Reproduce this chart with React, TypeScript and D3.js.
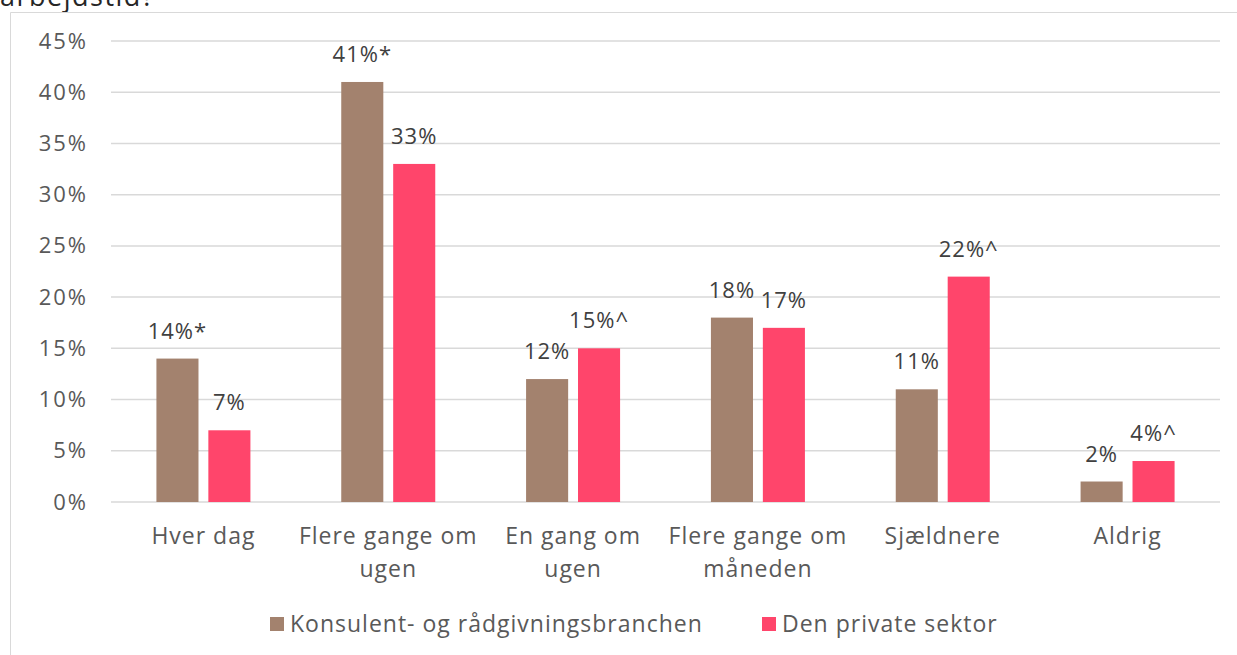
import { useRef, useEffect } from 'react'
import * as d3 from 'd3'

const categories = [
  ['Hver dag'],
  ['Flere gange om', 'ugen'],
  ['En gang om', 'ugen'],
  ['Flere gange om', 'måneden'],
  ['Sjældnere'],
  ['Aldrig'],
]
const seriesNames = ['Konsulent- og rådgivningsbranchen', 'Den private sektor']
const konsulent = [14, 41, 12, 18, 11, 2]
const privat = [7, 33, 15, 17, 22, 4]
const konsulentLabels = ['14%*', '41%*', '12%', '18%', '11%', '2%']
const privatLabels = ['7%', '33%', '15%^', '17%', '22%^', '4%^']
const yTicks = [0, 5, 10, 15, 20, 25, 30, 35, 40, 45]

const colors = ['#A3826E', '#FF456B']
const font = '"Open Sans", Lato, sans-serif'

export default function App() {
  const svgRef = useRef<SVGSVGElement>(null)

  useEffect(() => {
    if (!svgRef.current) return
    const svg = d3.select(svgRef.current)
    svg.selectAll('*').remove()

    const width = 1237
    const height = 655
    const margin = { top: 41, right: 17, bottom: 153, left: 111 }
    const innerW = width - margin.left - margin.right
    const innerH = height - margin.top - margin.bottom

    svg.attr('width', width).attr('height', height)

    // cut-off title and frame
    svg.append('text')
      .attr('x', 0)
      .attr('y', 6)
      .attr('font-family', font)
      .attr('font-size', 27)
      .attr('letter-spacing', '1.5px')
      .attr('fill', '#262626')
      .text('arbejdstid?')

    svg.append('path')
      .attr('d', `M10.5,${height} V12.5 H${width}`)
      .attr('fill', 'none')
      .attr('stroke', '#d9d9d9')
      .attr('stroke-width', 1)

    const g = svg.append('g').attr('transform', `translate(${margin.left},${margin.top})`)

    const x0 = d3.scaleBand<number>()
      .domain(d3.range(categories.length))
      .range([0, innerW])
    const x1 = d3.scaleBand<number>()
      .domain([0, 1])
      .range([x0.bandwidth() / 2 - 47, x0.bandwidth() / 2 + 47])
      .paddingInner(0.19)
    const y = d3.scaleLinear().domain([0, 45]).range([innerH, 0])

    // grid
    g.selectAll('.grid')
      .data(yTicks)
      .enter()
      .append('line')
      .attr('x1', 0)
      .attr('x2', innerW)
      .attr('y1', (d) => y(d))
      .attr('y2', (d) => y(d))
      .attr('stroke', '#d9d9d9')
      .attr('stroke-width', 1.5)

    // y axis labels
    g.append('g')
      .call(d3.axisLeft(y).tickValues(yTicks).tickFormat((d) => `${d}%`).tickSize(0).tickPadding(23))
      .call((a) => a.select('.domain').remove())
      .selectAll('text')
      .attr('fill', '#595959')
      .attr('font-size', '22px')
      .attr('letter-spacing', '2px')
      .attr('font-family', font)

    const series = [konsulent, privat]
    const labels = [konsulentLabels, privatLabels]

    series.forEach((vals, s) => {
      g.selectAll(`.bar-${s}`)
        .data(vals)
        .enter()
        .append('rect')
        .attr('x', (_, i) => x0(i)! + x1(s)!)
        .attr('y', (d) => y(d))
        .attr('width', x1.bandwidth())
        .attr('height', (d) => innerH - y(d))
        .attr('fill', colors[s])

      g.selectAll(`.lbl-${s}`)
        .data(vals)
        .enter()
        .append('text')
        .attr('x', (_, i) => x0(i)! + x1(s)! + x1.bandwidth() / 2)
        .attr('y', (d) => y(d) - 20)
        .attr('text-anchor', 'middle')
        .attr('fill', '#404040')
        .attr('font-size', '22px')
        .attr('letter-spacing', '1px')
        .attr('font-family', font)
        .text((_, i) => labels[s][i])
    })

    // category labels
    const cat = g.selectAll('.cat')
      .data(categories)
      .enter()
      .append('text')
      .attr('text-anchor', 'middle')
      .attr('fill', '#595959')
      .attr('font-size', '23px')
      .attr('letter-spacing', '1px')
      .attr('font-family', font)
      .attr('transform', (_, i) => `translate(${x0(i)! + x0.bandwidth() / 2},${innerH + 42})`)
    cat.selectAll('tspan')
      .data((d) => d)
      .enter()
      .append('tspan')
      .attr('x', 0)
      .attr('y', (_, j) => j * 33)
      .text((d) => d)

    // legend
    const legendX = [270, 762]
    seriesNames.forEach((name, s) => {
      svg.append('rect')
        .attr('x', legendX[s])
        .attr('y', 617)
        .attr('width', 14)
        .attr('height', 14)
        .attr('fill', colors[s])
      svg.append('text')
        .attr('x', legendX[s] + 20)
        .attr('y', 632)
        .attr('fill', '#595959')
        .attr('font-size', '23px')
        .attr('letter-spacing', '1px')
        .attr('font-family', font)
        .text(name)
    })
  }, [])

  return (
    <div style={{ position: 'absolute', left: 0, top: 0, background: '#fff' }}>
      <svg ref={svgRef} style={{ display: 'block' }} />
    </div>
  )
}
